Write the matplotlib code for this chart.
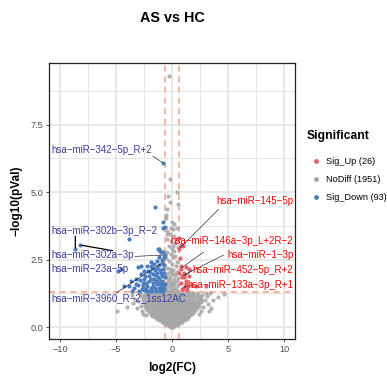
import numpy as np
import matplotlib
matplotlib.use("Agg")
import matplotlib.pyplot as plt
from matplotlib.lines import Line2D

plt.rcParams['font.family'] = ['Liberation Sans', 'DejaVu Sans']

# ---- data (log2FC, -log10 pval) ----
# NoDiff cloud, rows of (pval, [fc ...]) for the dense funnel
nodiff_rows = [
    (0.02, [-0.1, 0.0, 0.1]),
    (0.05, [-0.25, -0.1, 0.05, 0.2]),
    (0.08, [-0.4, -0.2, 0.0, 0.15, 0.35]),
    (0.12, [-0.55, -0.35, -0.15, 0.05, 0.25, 0.45]),
    (0.16, [-0.7, -0.5, -0.3, -0.1, 0.1, 0.3, 0.5, 0.7]),
    (0.20, [-0.9, -0.65, -0.4, -0.2, 0.0, 0.2, 0.4, 0.65, 0.85]),
    (0.25, [-1.15, -0.9, -0.65, -0.4, -0.15, 0.1, 0.35, 0.6, 0.85, 1.1]),
    (0.30, [-1.35, -1.1, -0.85, -0.6, -0.35, -0.1, 0.15, 0.4, 0.65, 0.9, 1.15, 1.3]),
    (0.36, [-1.55, -1.3, -1.05, -0.8, -0.55, -0.3, -0.05, 0.2, 0.45, 0.7, 0.95, 1.2, 1.45]),
    (0.42, [-1.75, -1.5, -1.25, -1.0, -0.75, -0.5, -0.25, 0.0, 0.25, 0.5, 0.75, 1.0, 1.25, 1.5]),
    (0.48, [-1.9, -1.65, -1.4, -1.15, -0.9, -0.65, -0.4, -0.15, 0.1, 0.35, 0.6, 0.85, 1.1, 1.35, 1.6, 1.8]),
    (0.55, [-2.05, -1.8, -1.55, -1.3, -1.05, -0.8, -0.55, -0.3, -0.05, 0.2, 0.45, 0.7, 0.95, 1.2, 1.45, 1.7, 1.95]),
    (0.62, [-2.2, -1.95, -1.7, -1.45, -1.2, -0.95, -0.7, -0.45, -0.2, 0.05, 0.3, 0.55, 0.8, 1.05, 1.3, 1.55, 1.8, 2.05]),
    (0.70, [-2.3, -2.05, -1.8, -1.55, -1.3, -1.05, -0.8, -0.55, -0.3, -0.05, 0.2, 0.45, 0.7, 0.95, 1.2, 1.45, 1.7, 1.95, 2.2]),
    (0.78, [-2.4, -2.1, -1.85, -1.6, -1.35, -1.1, -0.85, -0.6, -0.35, -0.1, 0.15, 0.4, 0.65, 0.9, 1.15, 1.4, 1.65, 1.9, 2.15, 2.4]),
    (0.86, [-2.45, -2.2, -1.9, -1.65, -1.4, -1.15, -0.9, -0.65, -0.4, -0.15, 0.1, 0.35, 0.6, 0.85, 1.1, 1.35, 1.6, 1.85, 2.1, 2.35]),
    (0.94, [-2.5, -2.25, -1.95, -1.7, -1.45, -1.2, -0.95, -0.7, -0.45, -0.2, 0.05, 0.3, 0.55, 0.8, 1.05, 1.3, 1.55, 1.8, 2.05, 2.3, 2.6]),
    (1.02, [-2.55, -2.3, -2.0, -1.75, -1.5, -1.25, -1.0, -0.75, -0.5, -0.25, 0.0, 0.25, 0.5, 0.75, 1.0, 1.25, 1.5, 1.75, 2.0, 2.3, 2.55]),
    (1.10, [-2.6, -2.3, -2.05, -1.8, -1.55, -1.3, -1.05, -0.8, -0.55, -0.3, -0.05, 0.2, 0.45, 0.7, 0.95, 1.2, 1.45, 1.7, 1.95, 2.2, 2.5]),
    (1.18, [-2.5, -2.2, -1.9, -1.6, -1.3, -1.0, -0.7, -0.4, -0.1, 0.2, 0.5, 0.8, 1.1, 1.4, 1.7, 2.0, 2.3]),
    (1.26, [-2.3, -1.95, -1.6, -1.25, -0.9, -0.55, -0.2, 0.15, 0.5, 0.85, 1.2, 1.55, 1.9, 2.25]),
]
# NoDiff points scattered around the funnel and inside the fold-change band
nodiff_extra = [
    (-2.8, 1.15), (-3.0, 0.95), (-2.75, 0.8), (-3.3, 1.05), (-2.9, 1.25), (-3.5, 0.9),
    (-3.1, 0.7), (-4.0, 0.73), (-4.92, 0.6), (-2.7, 0.6), (-3.6, 1.2), (-2.6, 0.5),
    (-2.35, 0.45), (2.7, 1.2), (2.9, 1.0), (3.1, 1.15), (3.4, 1.25), (3.7, 1.0),
    (4.6, 1.22), (3.2, 0.85), (2.8, 0.75), (2.6, 0.6), (3.5, 0.7), (4.1, 1.1),
    (2.45, 0.5), (3.0, 1.28), (2.55, 1.05), (3.3, 0.6),
    (-0.27, 9.31), (-0.2, 5.5), (-0.32, 4.84), (0.48, 4.99), (-0.2, 4.62), (0.53, 4.56),
    (-0.41, 4.37), (-0.53, 4.17), (-0.53, 4.05), (0.18, 3.8), (-0.12, 3.67), (0.42, 3.67),
    (-0.03, 3.9), (-0.41, 3.57), (-0.2, 3.44), (0.06, 3.63), (0.18, 3.38), (-0.41, 3.26),
    (-0.05, 3.2), (0.24, 3.1), (-0.27, 3.01), (-0.03, 2.91), (0.18, 2.83), (-0.41, 2.77),
    (-0.12, 2.7), (0.12, 2.58), (-0.27, 2.46), (0.04, 2.33), (0.33, 2.27), (-0.45, 2.2),
    (-0.2, 2.15), (0.1, 2.12), (0.4, 2.05), (-0.35, 2.0), (0.0, 1.97), (0.25, 1.92),
    (-0.5, 1.88), (-0.15, 1.85), (0.5, 1.82), (0.15, 1.78), (-0.3, 1.74), (0.35, 1.7),
    (-0.05, 1.68), (-0.48, 1.63), (0.22, 1.6), (0.5, 1.56), (-0.2, 1.55), (0.05, 1.5),
    (-0.38, 1.47), (0.35, 1.45), (-0.1, 1.42), (0.2, 1.38), (-0.5, 1.36), (0.45, 1.34),
    (-0.25, 1.33), (0.0, 1.31), (0.1, 1.62), (-0.4, 1.78), (0.3, 1.98), (-0.1, 2.05),
    (0.45, 2.4), (-0.55, 2.55), (0.3, 2.65), (0.5, 2.95), (0.05, 3.0), (-0.45, 3.45),
    (0.4, 3.25),
]

down_fc = [-0.77, -1.48, -0.83, -0.62, -0.77, -3.83, -1.16, -1.0, -0.77, -1.16, -0.71,
           -8.63, -8.18, -0.65, -0.92, -1.16, -1.9, -2.13, -2.78, -1.74, -1.3, -3.67,
           -3.23, -2.49, -2.05, -1.6, -1.16, -4.27, -3.83, -3.08, -2.63, -2.19, -1.74,
           -1.3, -1.0, -2.93, -2.49, -1.96, -1.45, -1.07, -0.85, -4.86, -4.56, -3.08,
           -2.78, -2.19, -2.49, -1.9, -1.21, -1.07, -0.7, -0.75, -0.9, -0.7, -0.8, -1.05,
           -1.25, -1.4, -1.55, -1.85, -2.05, -2.3, -2.6, -2.35, -1.7, -1.9, -1.35, -1.55,
           -1.75, -0.95, -1.2, -0.65, -0.68, -0.9, -1.3, -1.6, -2.0, -2.4, -2.85, -3.4,
           -3.6, -0.8, -0.95, -1.15, -1.5, -1.0, -0.7, -2.7, -3.2, -1.8, -2.2, -0.62,
           -0.85]
down_p = [6.07, 4.44, 3.88, 3.69, 3.66, 3.26, 2.89, 2.77, 2.80, 2.58, 2.58,
          2.89, 3.04, 2.67, 2.37, 2.30, 2.27, 2.09, 1.96, 1.96, 2.02, 1.71,
          1.78, 1.78, 1.71, 1.78, 1.78, 1.53, 1.53, 1.56, 1.53, 1.53, 1.53,
          1.59, 1.53, 1.34, 1.38, 1.34, 1.34, 1.34, 1.71, 2.09, 2.17, 2.21,
          2.25, 2.27, 2.09, 2.40, 2.91, 2.83, 1.40, 1.60, 1.90, 2.00, 2.15, 2.10,
          1.85, 1.70, 1.45, 1.45, 1.90, 1.65, 1.65, 1.40, 1.65, 1.80, 2.20, 2.10,
          2.20, 1.62, 1.45, 1.85, 2.30, 2.50, 2.45, 2.35, 2.05, 1.90, 1.75, 1.45,
          1.35, 1.32, 1.42, 1.62, 1.93, 2.00, 1.52, 1.40, 1.60, 1.35, 1.35, 1.60,
          1.50]

up_fc = [0.62, 0.77, 0.93, 1.1, 0.9, 0.66, 0.8, 1.01, 0.77, 1.22, 0.62, 0.92, 0.77,
         1.22, 1.01, 1.37, 1.07, 1.51, 1.51, 1.22, 1.13, 1.37, 1.66, 2.11, 3.0, 0.7]
up_p = [2.89, 2.17, 1.90, 1.85, 1.42, 3.31, 3.05, 2.99, 2.27, 2.21, 2.00, 1.84, 1.65,
        1.59, 1.43, 1.38, 2.02, 2.15, 1.90, 1.71, 1.53, 1.47, 1.56, 1.53, 1.51, 2.55]

legend_labels = ["Sig_Up (26)", "NoDiff (1951)", "Sig_Down (93)"]

# labelled genes: name, point fc, point p
lab_names = ["hsa−miR−342−5p_R+2", "hsa−miR−145−5p", "hsa−miR−146a−3p_L+2R−2",
             "hsa−miR−1−3p", "hsa−miR−452−5p_R+2", "hsa−miR−133a−3p_R+1",
             "hsa−miR−302b−3p_R−2", "hsa−miR−302a−3p", "hsa−miR−23a−5p",
             "hsa−miR−3960_R−2_1ss12AC"]
lab_fc = [-0.77, 0.62, 0.77, 0.93, 1.1, 0.9, -8.63, -0.65, -8.18, -0.92]
lab_p = [6.07, 2.89, 2.17, 1.90, 1.85, 1.42, 2.89, 2.67, 3.04, 2.37]
lab_up = [False, True, True, True, True, True, False, False, False, False]
# label text anchor (x, y) and leader start (x, y)
lab_txt = [(-10.8, 6.57), (10.83, 4.67), (10.83, 3.2), (10.83, 2.67), (10.83, 2.12),
           (10.83, 1.56), (-10.8, 3.57), (-10.8, 2.67), (-10.8, 2.17), (-10.8, 1.08)]
lab_seg = [(-1.72, 6.33), (4.17, 4.37), (2.82, 2.78), (4.6, 2.67), (1.75, 2.11),
           (1.31, 1.52), (-8.63, 3.37), (-3.31, 2.62), (-5.3, 2.83), (-5.0, 1.26)]
lab_lw = [0.4, 0.4, 0.4, 0.4, 0.4, 0.4, 0.9, 0.4, 0.9, 0.4]

col_up = "#E5606B"
col_no = "#A6A6A6"
col_down = "#4A7CC0"

nd_fc = [x for p, xs in nodiff_rows for x in xs] + [a for a, b in nodiff_extra]
nd_p = [p for p, xs in nodiff_rows for x in xs] + [b for a, b in nodiff_extra]

fig = plt.figure(figsize=(3.87, 3.77), dpi=100)
ax = fig.add_axes([0.126, 0.1, 0.637, 0.733])

ax.scatter(nd_fc, nd_p, s=9, c=col_no, alpha=0.85, linewidths=0, zorder=3)
ax.scatter(down_fc, down_p, s=9, c=col_down, linewidths=0, zorder=3)
ax.scatter(up_fc, up_p, s=9, c=col_up, linewidths=0, zorder=3)

ax.axhline(-np.log10(0.05), color="#F7A08C", lw=1.1, ls=(0, (4, 3)), zorder=2)
ax.axvline(-np.log2(1.5), color="#F7A08C", lw=1.1, ls=(0, (4, 3)), zorder=2)
ax.axvline(np.log2(1.5), color="#F7A08C", lw=1.1, ls=(0, (4, 3)), zorder=2)

for i in range(len(lab_names)):
    c = "#FF0000" if lab_up[i] else "#3C3C9C"
    ha = "right" if lab_up[i] else "left"
    ax.annotate("", xy=(lab_fc[i], lab_p[i]), xytext=lab_seg[i],
                arrowprops=dict(arrowstyle="-", color="black", lw=lab_lw[i],
                                shrinkA=0, shrinkB=1), zorder=4)
    ax.text(lab_txt[i][0], lab_txt[i][1], lab_names[i], color=c, fontsize=7,
            ha=ha, va="center", zorder=5)

ax.set_xlim(-11, 11)
ax.set_ylim(-0.45, 9.78)
ax.set_xticks([-10, -5, 0, 5, 10])
ax.set_xticks([-7.5, -2.5, 2.5, 7.5], minor=True)
ax.set_yticks([0, 2.5, 5, 7.5])
ax.set_yticks([1.25, 3.75, 6.25, 8.75], minor=True)
ax.set_yticklabels(["0.0", "2.5", "5.0", "7.5"])
ax.grid(which="major", color="#E6E6E6", lw=1.3, zorder=0)
ax.grid(which="minor", color="#E6E6E6", lw=0.7, zorder=0)
ax.set_axisbelow(True)
ax.tick_params(which="major", length=2.5, width=0.6, color="#333333",
               labelsize=6.6, labelcolor="#4D4D4D", pad=1.5)
ax.tick_params(which="minor", length=0)
for s in ax.spines.values():
    s.set_color("#222222")
    s.set_linewidth(0.9)

ax.set_xlabel("log2(FC)", fontsize=8.5, fontweight="bold", labelpad=6)
ax.set_ylabel("−log10(pVal)", fontsize=8.5, fontweight="bold", labelpad=6)
fig.text(0.445, 0.952, "AS vs HC", fontsize=10.4, fontweight="bold",
         ha="center", va="center")

fig.text(0.792, 1 - 135.7 / 377, "Significant", fontsize=8.7, fontweight="bold",
         ha="left", va="center")
handles = [Line2D([], [], ls="", marker="o", ms=3.5, mfc=col_up, mec="none"),
           Line2D([], [], ls="", marker="o", ms=3.5, mfc=col_no, mec="none"),
           Line2D([], [], ls="", marker="o", ms=3.5, mfc=col_down, mec="none")]
leg = ax.legend(handles, legend_labels, loc="upper left",
                bbox_to_anchor=(0.792, 1 - 157.0 / 377), bbox_transform=fig.transFigure,
                frameon=False, fontsize=6.6, handlelength=2.0, handletextpad=0.1,
                labelspacing=1.0, borderpad=0, borderaxespad=0)

fig.savefig("out.png", dpi=100)
